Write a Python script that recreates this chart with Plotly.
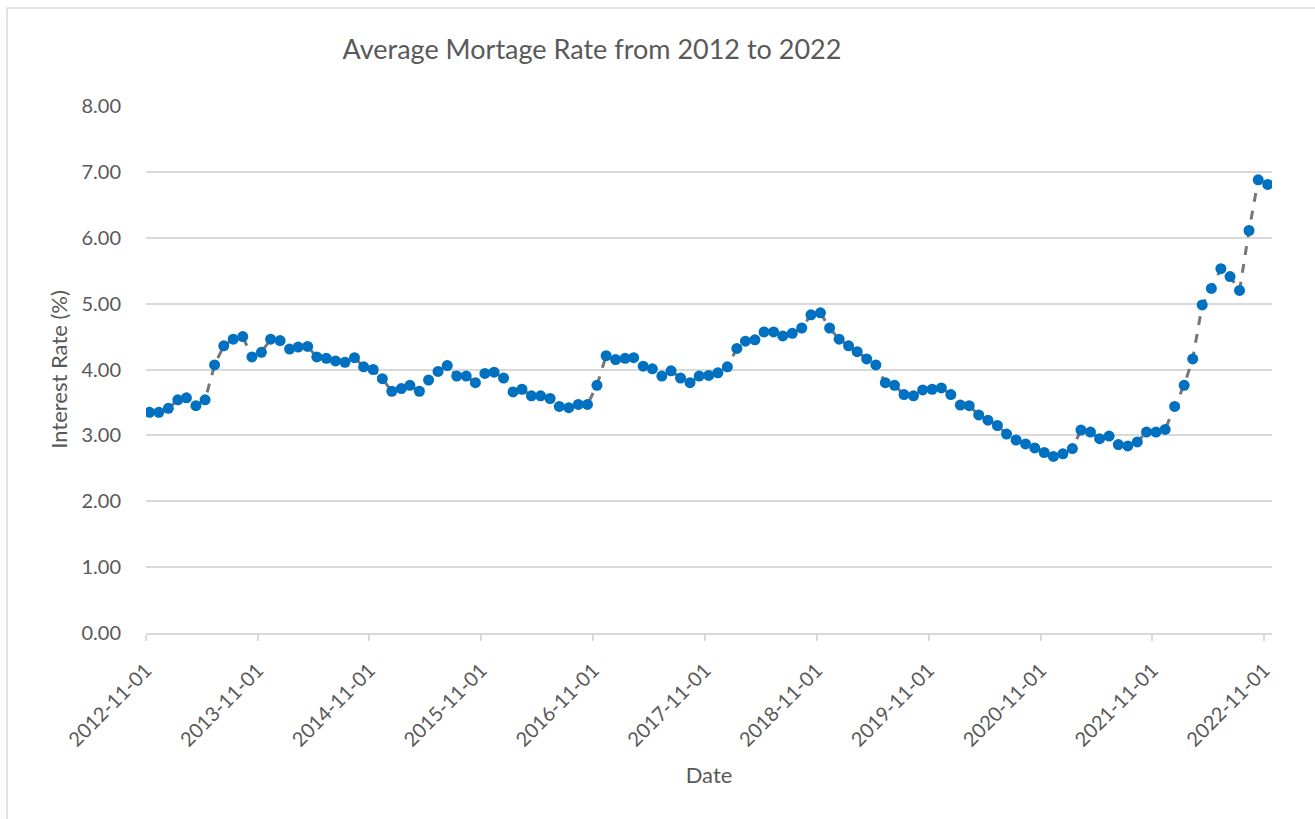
import pandas as pd
import plotly.graph_objects as go

# Monthly observations, Nov 2012 .. Nov 2022 (121 points)
start_month = "2012-11-13"
n_points = 121
dates = pd.date_range(start=start_month, periods=n_points, freq=pd.DateOffset(months=1))

rates = [
    3.35, 3.35, 3.41, 3.54, 3.57, 3.45, 3.54, 4.07, 4.36, 4.46, 4.50, 4.19,
    4.26, 4.46, 4.44, 4.31, 4.34, 4.35, 4.19, 4.17, 4.13, 4.11, 4.18, 4.04,
    4.00, 3.86, 3.67, 3.71, 3.76, 3.67, 3.84, 3.97, 4.06, 3.90, 3.90, 3.80,
    3.94, 3.96, 3.87, 3.66, 3.70, 3.60, 3.60, 3.56, 3.44, 3.42, 3.47, 3.47,
    3.76, 4.21, 4.15, 4.17, 4.18, 4.05, 4.01, 3.90, 3.98, 3.87, 3.80, 3.90,
    3.91, 3.95, 4.04, 4.32, 4.43, 4.45, 4.57, 4.57, 4.51, 4.55, 4.63, 4.83,
    4.86, 4.63, 4.46, 4.36, 4.27, 4.16, 4.07, 3.80, 3.76, 3.62, 3.60, 3.69,
    3.70, 3.72, 3.62, 3.46, 3.45, 3.31, 3.23, 3.15, 3.02, 2.93, 2.87, 2.81,
    2.74, 2.68, 2.72, 2.80, 3.08, 3.05, 2.95, 2.99, 2.86, 2.84, 2.90, 3.05,
    3.05, 3.09, 3.44, 3.76, 4.16, 4.98, 5.23, 5.53, 5.41, 5.20, 6.11, 6.88,
    6.81,
]

tick_dates = ["2012-11-01", "2013-11-01", "2014-11-01", "2015-11-01", "2016-11-01",
              "2017-11-01", "2018-11-01", "2019-11-01", "2020-11-01", "2021-11-01",
              "2022-11-01"]
y_ticks = [0, 1, 2, 3, 4, 5, 6, 7, 8]
y_tick_labels = ["0.00", "1.00", "2.00", "3.00", "4.00", "5.00", "6.00", "7.00", "8.00"]

title_text = "Average Mortage Rate from 2012 to 2022"
x_title = "Date"
y_title = "Interest Rate (%)"

FONT = "Lato"
TXT = "#595959"
GRID = "#d9d9d9"

fig = go.Figure()
fig.add_trace(go.Scatter(
    x=dates, y=rates, mode="lines+markers",
    line=dict(color="#767676", width=3, dash="dash"),
    marker=dict(color="#0070C0", size=11, line=dict(width=0)),
    showlegend=False,
))

fig.update_layout(
    width=1315, height=819,
    paper_bgcolor="white", plot_bgcolor="white",
    margin=dict(l=146, r=43, t=106, b=186),
    font=dict(family=FONT, color=TXT, size=20),
    title=dict(text=title_text, x=592 / 1315, xanchor="center", y=1 - 50 / 819, yanchor="middle",
               font=dict(family=FONT, size=27, color=TXT)),
    xaxis=dict(
        type="date",
        range=["2012-11-01", "2022-11-27"],
        tickvals=tick_dates, ticktext=tick_dates,
        tickangle=-45, tickfont=dict(size=20, color=TXT),
        ticklabelstandoff=10,
        showgrid=False, showline=True, linecolor=GRID, linewidth=1.5,
        ticks="outside", ticklen=6, tickcolor=GRID, tickwidth=1.5,
        title=dict(text=x_title, font=dict(size=22, color=TXT), standoff=18),
        zeroline=False,
    ),
    yaxis=dict(
        range=[0, 8], tickvals=y_ticks, ticktext=y_tick_labels,
        tickfont=dict(size=20, color=TXT),
        showgrid=True, gridcolor=GRID, gridwidth=1.5,
        showline=False, zeroline=False, ticks="", ticklabelstandoff=24,
        title=dict(text=y_title, font=dict(size=22, color=TXT), standoff=7),
    ),
    shapes=[dict(type="rect", xref="paper", yref="paper",
                 x0=-139 / 1126, x1=1.2, y0=-0.5, y1=1 + 98 / 527,
                 line=dict(color="#d9d9d9", width=1.5), fillcolor="rgba(0,0,0,0)", layer="below")],
)

fig.write_html("out.html", config={"displayModeBar": False},
               post_script="document.body.style.margin='0';")
